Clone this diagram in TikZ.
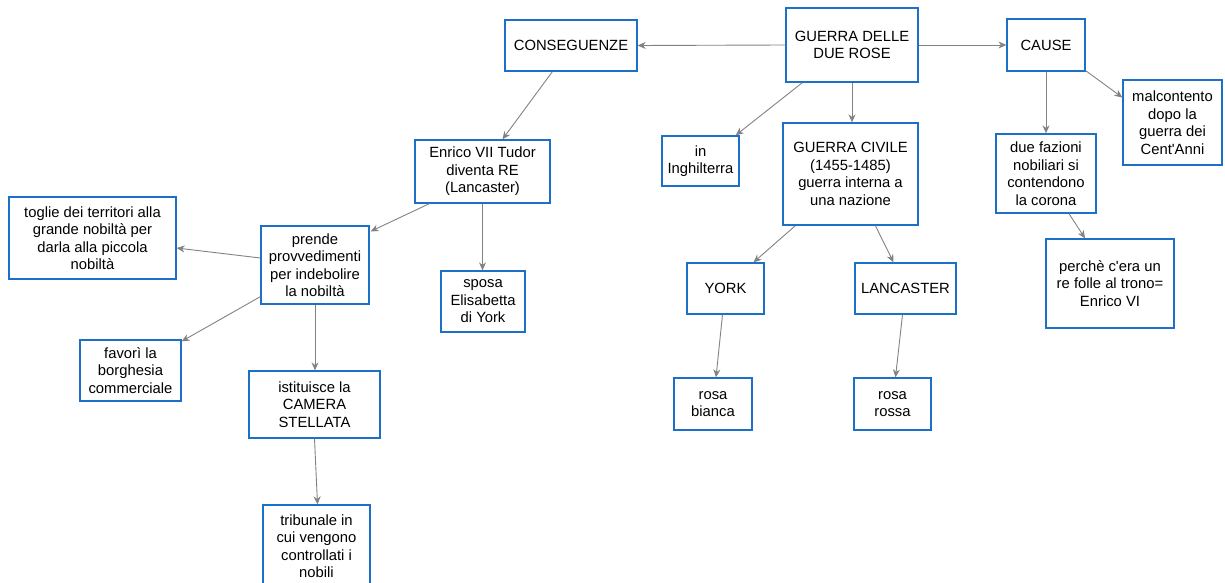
\documentclass[tikz,border=0pt]{standalone}
\usepackage{fontspec}
\setmainfont{Liberation Sans}
\usetikzlibrary{arrows.meta,calc}
\definecolor{boxblue}{RGB}{28,112,200}
\definecolor{arrgray}{RGB}{130,130,130}
\begin{document}
\begin{tikzpicture}[x=1pt,y=-1pt,
  box/.style={draw=boxblue,line width=1.3pt,fill=white,align=center,inner sep=0pt,
    font=\fontsize{14.8}{17.5}\selectfont},
  arr/.style={draw=arrgray,line width=0.9pt,-{Stealth[length=8pt,width=7pt]}}]
\useasboundingbox (0,0) rectangle (1225,583);
\node[box,minimum width=132pt,minimum height=74pt] (rose) at (852,45) {GUERRA DELLE\\DUE ROSE};
\node[box,minimum width=132pt,minimum height=51pt] (cons) at (571,45.5) {CONSEGUENZE};
\node[box,minimum width=78pt,minimum height=52pt] (cause) at (1046,45) {CAUSE};
\node[box,minimum width=99pt,minimum height=85pt] (malc) at (1172.5,122.5) {malcontento\\dopo la\\guerra dei\\Cent\textquotesingle Anni};
\node[box,minimum width=100pt,minimum height=79pt] (faz) at (1046,173.5) {due fazioni\\nobiliari si\\contendono\\la corona};
\node[box,minimum width=128pt,minimum height=89pt] (perche) at (1110,283.5) {perchè c\textquotesingle era un\\re folle al trono=\\Enrico VI};
\node[box,minimum width=77pt,minimum height=50pt] (ingh) at (700.5,161) {in\\Inghilterra};
\node[box,minimum width=135pt,minimum height=102pt] (civile) at (850.5,174) {GUERRA CIVILE\\(1455-1485)\\guerra interna a\\una nazione};
\node[box,minimum width=77pt,minimum height=51pt] (york) at (725.5,288.5) {YORK};
\node[box,minimum width=101pt,minimum height=51pt] (lanc) at (905.5,288.5) {LANCASTER};
\node[box,minimum width=78pt,minimum height=52pt] (bianca) at (713,404) {rosa\\bianca};
\node[box,minimum width=77pt,minimum height=52pt] (rossa) at (892.5,404) {rosa\\rossa};
\node[box,minimum width=135pt,minimum height=63pt] (enrico) at (482.5,171.5) {Enrico VII Tudor\\diventa RE\\(Lancaster)};
\node[box,minimum width=84pt,minimum height=61pt] (sposa) at (483,301.5) {sposa\\Elisabetta\\di York};
\node[box,minimum width=108pt,minimum height=78pt] (prende) at (315,265) {prende\\provvedimenti\\per indebolire\\la nobiltà};
\node[box,minimum width=167pt,minimum height=82pt] (toglie) at (92.5,238) {toglie dei territori alla\\grande nobiltà per\\darla alla piccola\\nobiltà};
\node[box,minimum width=101pt,minimum height=61pt] (favori) at (130.5,370.5) {favorì la\\borghesia\\commerciale};
\node[box,minimum width=131pt,minimum height=67pt] (ist) at (314.5,404.5) {istituisce la\\CAMERA\\STELLATA};
\node[box,minimum width=107pt,minimum height=82pt] (trib) at (316.5,546) {tribunale in\\cui vengono\\controllati i\\nobili};
% connectors
\draw[arr] (rose.west) -- (cons.east);
\draw[arr] (rose.east) -- (cause.west);
\draw[arr] ($(rose.south west)+(17,0)$) -- ($(ingh.north east)+(-4,0)$);
\draw[arr] (rose.south) -- (rose.south |- civile.north);
\draw[arr] ($(cons.south west)+(48,0)$) -- ($(enrico.north)+(20,0)$);
\draw[arr] (cause.south) -- (faz.north);
\draw[arr] ($(cause.south east)+(0,-1)$) -- ($(malc.west)+(0,-25)$);
\draw[arr] ($(faz.south)+(23,0)$) -- ($(perche.north)+(-25,0)$);
\draw[arr] ($(civile.south west)+(13,0)$) -- ($(york.north)+(28,0)$);
\draw[arr] ($(civile.south west)+(93,0)$) -- ($(lanc.north)+(-12,0)$);
\draw[arr] ($(york.south)+(-3,0)$) -- ($(bianca.north)+(3,0)$);
\draw[arr] ($(lanc.south)+(-3,0)$) -- ($(rossa.north)+(3,0)$);
\draw[arr] ($(enrico.south west)+(15,0)$) -- ($(prende.north east)+(1,6)$);
\draw[arr] (enrico.south) -- (enrico.south |- sposa.north);
\draw[arr] ($(prende.west)+(0,-7)$) -- ($(toglie.east)+(0,10)$);
\draw[arr] ($(prende.south west)+(0,-8)$) -- ($(favori.north east)+(0,2)$);
\draw[arr] (prende.south) -- (prende.south |- ist.north);
\draw[arr] (ist.south) -- ($(trib.north)+(1,0)$);
\end{tikzpicture}
\end{document}
